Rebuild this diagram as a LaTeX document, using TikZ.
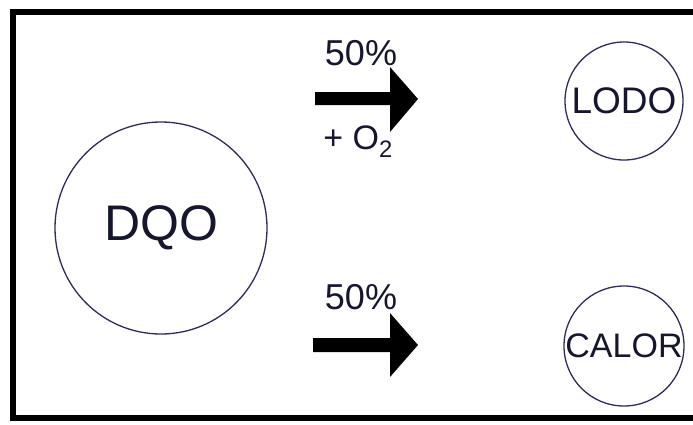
\documentclass[tikz,border=0pt]{standalone}
\usepackage{fontspec}
\setmainfont{Liberation Sans}
\definecolor{inkc}{RGB}{22,22,48}
\definecolor{ringc}{RGB}{45,45,90}
\begin{document}
\begin{tikzpicture}[x=1pt,y=-1pt,
  ring/.style={circle,draw=ringc,line width=1.3pt,inner sep=0pt,text=inkc},
  lbl/.style={text=inkc,inner sep=0pt,font=\fontsize{36}{40}\selectfont},
  blockarrow/.style={fill=black}]
\useasboundingbox (0,0) rectangle (693,424);
\fill[white] (0,0) rectangle (693,424);
\begin{scope}
\clip (0,0) rectangle (693,424);
\draw[line width=6pt] (13,12) rectangle (712,418);
\end{scope}
% circles
\node[ring,minimum size=212pt,font=\fontsize{50}{54}\selectfont] (dqo) at (161,228) {DQO};
\node[ring,minimum size=118pt,font=\fontsize{37}{40}\selectfont] (lodo) at (624,101) {LODO};
\node[ring,minimum size=120pt,font=\fontsize{34}{38}\selectfont] (calor) at (624,346) {CALOR};
% arrows
\fill[blockarrow] (315,92) -- (390,92) -- (390,67) -- (418,99) -- (390,132) -- (390,105) -- (315,105) -- cycle;
\fill[blockarrow] (313,338) -- (390,338) -- (390,313) -- (418,345) -- (390,377) -- (390,352) -- (313,352) -- cycle;
% labels
\node[lbl] (p1) at (361,53) {50\%};
\node[lbl,font=\fontsize{34}{38}\selectfont] (o2) at (358,142) {+ O\textsubscript{2}};
\node[lbl] (p2) at (361,297) {50\%};
\end{tikzpicture}
\end{document}
